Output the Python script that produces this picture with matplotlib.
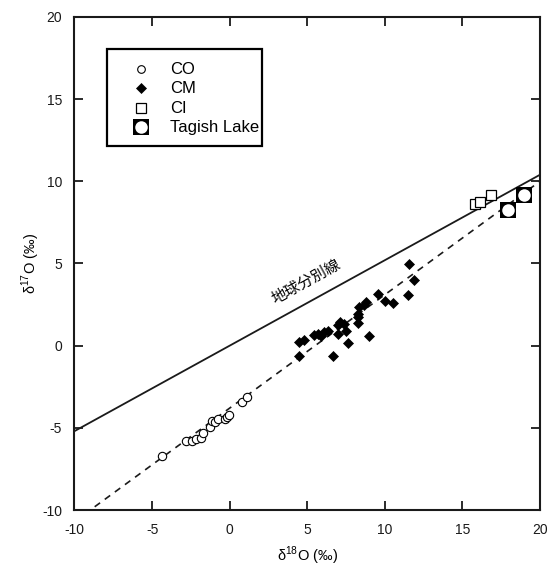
import numpy as np
import matplotlib
matplotlib.use('Agg')
import matplotlib.pyplot as plt
from matplotlib.patches import Rectangle

plt.rcParams['font.family'] = ['Liberation Sans', 'Noto Sans CJK JP', 'DejaVu Sans']
plt.rcParams['mathtext.fontset'] = 'custom'
plt.rcParams['mathtext.rm'] = 'Liberation Sans'
plt.rcParams['axes.unicode_minus'] = False

# data (delta18O, delta17O in permil)
co_d18 = [-4.35, -2.79, -2.40, -2.14, -1.86, -1.71, -1.24, -1.14, -0.96, -0.75, -0.32, -0.15, -0.06, 0.82, 1.14]
co_d17 = [-6.69, -5.78, -5.82, -5.67, -5.63, -5.31, -4.97, -4.58, -4.66, -4.46, -4.46, -4.36, -4.21, -3.45, -3.14]

cm_d18 = [4.44, 4.50, 4.82, 5.42, 5.68, 5.90, 6.07, 6.32, 6.64, 6.96, 7.14, 7.40, 7.01, 7.50, 7.61,
          8.30, 8.25, 8.30, 8.36, 8.68, 9.00, 8.79, 9.54, 10.00, 10.50, 11.51, 11.90, 11.58]
cm_d17 = [-0.61, 0.20, 0.34, 0.65, 0.71, 0.61, 0.81, 0.87, -0.65, 1.28, 1.42, 1.32, 0.71, 0.91, 0.16,
          1.36, 1.76, 1.93, 2.37, 2.49, 0.61, 2.63, 3.14, 2.69, 2.57, 3.10, 4.01, 4.97]

ci_d18 = [15.80, 16.12, 16.83]
ci_d17 = [8.61, 8.75, 9.18]

tl_d18 = [17.96, 18.97]
tl_d17 = [8.25, 9.16]

# lines: terrestrial fractionation line and carbonaceous chondrite line
tfl_slope, tfl_icpt = 0.52, 0.0
ccl_slope, ccl_icpt = 0.69, -3.8

legend_labels = ['CO', 'CM', 'CI', 'Tagish Lake']
tfl_label = '地球分別線'

fig = plt.figure(figsize=(5.49, 5.68), dpi=100)
ax = fig.add_axes([0.1357, 0.1021, 0.8479, 0.8680])
ax.set_xlim(-10, 20)
ax.set_ylim(-10, 20)

xx = np.array([-10, 20])
ax.plot(xx, tfl_slope * xx + tfl_icpt, color='#1a1a1a', lw=1.3)
ax.plot(xx, ccl_slope * xx + ccl_icpt, color='#1a1a1a', lw=1.2, dashes=(4, 3.5))

co_style = dict(ls='none', marker='o', ms=6, mfc='white', mec='black', mew=0.8)
cm_style = dict(ls='none', marker='D', ms=5, mfc='black', mec='black', mew=0.5)
ci_style = dict(ls='none', marker='s', ms=6.5, mfc='white', mec='black', mew=0.9)
tl_sq = dict(ls='none', marker='s', ms=11, mfc='black', mec='black', mew=0)
tl_ci = dict(ls='none', marker='o', ms=9, mfc='white', mec='white', mew=0)

ax.plot(co_d18, co_d17, **co_style)
ax.plot(cm_d18, cm_d17, **cm_style)
ax.plot(ci_d18, ci_d17, **ci_style)
ax.plot(tl_d18, tl_d17, **tl_sq)
ax.plot(tl_d18, tl_d17, **tl_ci)

ax.text(4.9, 3.9, tfl_label, rotation=np.degrees(np.arctan(tfl_slope)),
        transform_rotates_text=True, rotation_mode='anchor',
        ha='center', va='center', fontsize=11, family=['Noto Sans CJK JP', 'DejaVu Sans'])

# legend drawn by hand to match the box proportions
def px2ax(px, py):
    return (px - 74.5) / 465.5, (510 - py) / 493.0

bx0, by0 = px2ax(107, 146)
bx1, by1 = px2ax(262, 49)
ax.add_patch(Rectangle((bx0, by0), bx1 - bx0, by1 - by0, transform=ax.transAxes,
                       facecolor='white', edgecolor='black', lw=1.6, zorder=5))
rows = [69.3, 88.3, 108.3, 127.3]
leg_co = dict(co_style, ms=5.5)
styles = [[leg_co], [cm_style], [ci_style], [tl_sq, tl_ci]]
for lab, py, sty in zip(legend_labels, rows, styles):
    mx, my = px2ax(141, py)
    for s in sty:
        ax.plot([mx], [my], transform=ax.transAxes, zorder=6, clip_on=False, **s)
    tx, _ = px2ax(170, py)
    ax.text(tx, my, lab, transform=ax.transAxes, fontsize=12, va='center', ha='left', zorder=6)

ax.set_xticks(np.arange(-10, 21, 5))
ax.set_yticks(np.arange(-10, 21, 5))
ax.tick_params(direction='in', length=6.5, width=1.3, top=True, right=True,
               labelsize=10, colors='#1a1a1a')
ax.tick_params(axis='x', pad=9)
ax.tick_params(axis='y', pad=9)
for sp in ax.spines.values():
    sp.set_linewidth(1.5)
    sp.set_color('#1a1a1a')

ax.set_xlabel('\u03b4$^{18}$O (\u2030)', fontsize=10.5, labelpad=6)
ax.set_ylabel('\u03b4$^{17}$O (\u2030)', fontsize=10.5, labelpad=0)

plt.savefig('out.png', dpi=100)
plt.close()
